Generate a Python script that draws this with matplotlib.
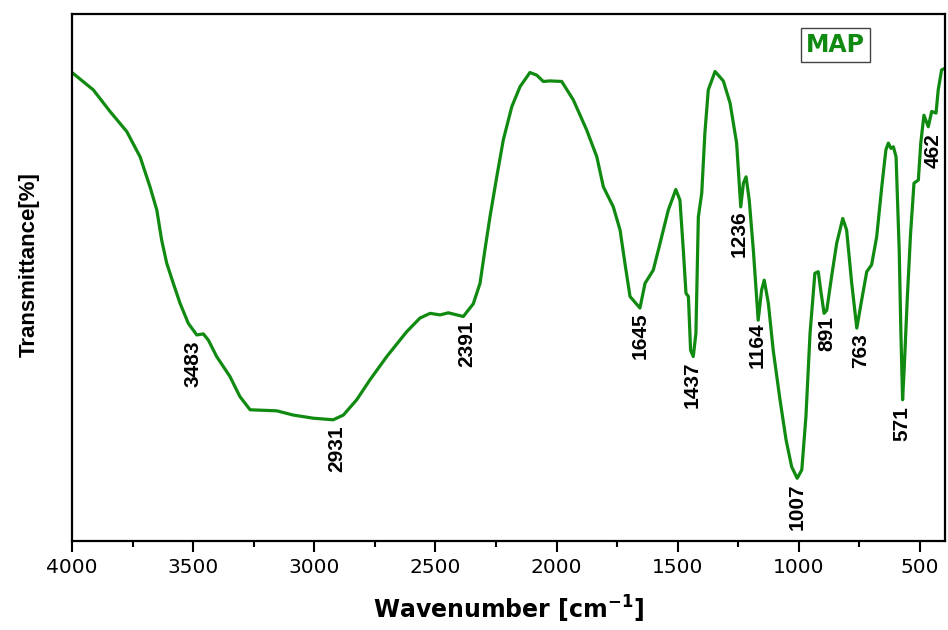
import numpy as np
import matplotlib
matplotlib.use('Agg')
import matplotlib.pyplot as plt
from matplotlib.ticker import MultipleLocator

# FTIR spectrum of MAP (arbitrary transmittance units)
wavenumber = [4000, 3912, 3843, 3774, 3719, 3678, 3650, 3630, 3609, 3582,
              3554, 3520, 3485, 3458, 3437, 3403, 3348, 3307, 3265, 3155,
              3087, 3004, 2922, 2880, 2825, 2770, 2701, 2619, 2564, 2522,
              2481, 2447, 2412, 2385, 2344, 2316, 2296, 2275, 2247, 2220,
              2185, 2151, 2110, 2082, 2055, 2027, 1979, 1931, 1876, 1834,
              1807, 1766, 1738, 1718, 1697, 1656, 1635, 1601, 1573, 1539,
              1508, 1491, 1477, 1466, 1456, 1447, 1436, 1425, 1415, 1401,
              1388, 1374, 1346, 1312, 1284, 1257, 1240, 1229, 1218, 1205,
              1188, 1174, 1168, 1154, 1143, 1126, 1106, 1078, 1053, 1030,
              1007, 988, 971, 954, 934, 920, 910, 896, 885, 865,
              844, 819, 803, 782, 761, 741, 720, 700, 679, 658,
              641, 631, 620, 610, 599, 586, 579, 572, 565, 553,
              539, 525, 507, 497, 484, 466, 452, 434, 425, 411, 397]
transmittance = [88.9, 85.6, 81.5, 77.7, 72.9, 67.2, 62.8, 57.1, 52.7, 48.9,
                 45.1, 41.3, 39.1, 39.3, 38.1, 35.0, 31.2, 27.4, 24.9, 24.7,
                 23.9, 23.3, 23.0, 23.9, 26.8, 30.6, 35.0, 39.7, 42.3, 43.2,
                 42.9, 43.3, 42.9, 42.6, 45.0, 48.9, 55.2, 61.5, 69.1, 76.1,
                 82.4, 86.2, 88.9, 88.4, 87.2, 87.3, 87.2, 83.7, 78.0, 72.9,
                 67.2, 63.4, 59.0, 52.7, 46.4, 44.2, 48.9, 51.4, 56.5, 62.8,
                 66.7, 64.7, 55.2, 47.0, 46.4, 36.2, 35.0, 39.4, 61.5, 66.0,
                 77.4, 85.6, 89.1, 87.3, 83.1, 75.5, 63.4, 67.9, 69.1, 64.7,
                 55.2, 45.7, 41.9, 47.6, 49.5, 45.1, 36.2, 26.8, 19.2, 14.1,
                 11.9, 13.5, 23.6, 39.4, 50.8, 51.1, 47.6, 43.2, 43.8, 50.2,
                 56.5, 61.2, 59.0, 48.9, 40.4, 45.7, 51.1, 52.4, 57.7, 67.2,
                 74.2, 75.5, 74.5, 74.8, 72.9, 55.2, 39.4, 26.8, 33.1, 45.7,
                 58.4, 67.9, 68.5, 75.5, 80.8, 78.6, 81.5, 81.2, 85.6, 89.4, 89.7]

# peak labels and where their top edge sits
peak_labels = [3483, 2931, 2391, 1645, 1437, 1236, 1164, 1007, 891, 763, 571, 462]
label_x = [3501, 2907, 2370, 1657, 1441, 1248, 1174, 1007, 883, 747, 575, 445]
label_y = [38.1, 22.0, 41.8, 43.3, 34.0, 62.8, 41.4, 11.0, 42.6, 39.5, 25.5, 77.4]

series_name = 'MAP'
line_color = '#108a10'
narrow = ['Liberation Sans Narrow', 'Liberation Sans']

fig = plt.figure(figsize=(9.48, 6.30), dpi=100)
ax = fig.add_axes([72 / 948, 89 / 630, 873 / 948, 527 / 630])

ax.plot(wavenumber, transmittance, color=line_color, lw=2.3, solid_joinstyle='round')

for lab, xx, yy in zip(peak_labels, label_x, label_y):
    ax.text(xx, yy, str(lab), rotation=90, ha='center', va='top',
            fontsize=15, fontweight='bold', family=narrow, color='black')

ax.text(0.8746, 0.941, series_name, transform=ax.transAxes, ha='center', va='center',
        fontsize=17, fontweight='bold', color=line_color, family='DejaVu Sans',
        bbox=dict(boxstyle='square,pad=0.22', fc='white', ec='#444444', lw=1.0))

ax.set_xlim(4000, 397)
ax.set_ylim(0, 100)
ax.xaxis.set_major_locator(MultipleLocator(500))
ax.xaxis.set_minor_locator(MultipleLocator(250))
ax.set_yticks([])
ax.tick_params(axis='x', which='major', direction='out', length=8, width=1.5,
               labelsize=14.5, pad=4)
ax.tick_params(axis='x', which='minor', direction='out', length=4, width=1.5)
for lbl in ax.get_xticklabels():
    lbl.set_family('DejaVu Sans')
for sp in ax.spines.values():
    sp.set_linewidth(1.6)

ax.set_xlabel('Wavenumber [cm$^{\\mathbf{-1}}$]', fontsize=17, fontweight='bold',
              family='DejaVu Sans', labelpad=12)
ax.set_ylabel('Transmittance[%]', fontsize=16, fontweight='bold', family=narrow)
ax.yaxis.set_label_coords(-0.037, 0.524)

fig.savefig('out.png', dpi=100, facecolor='white')
